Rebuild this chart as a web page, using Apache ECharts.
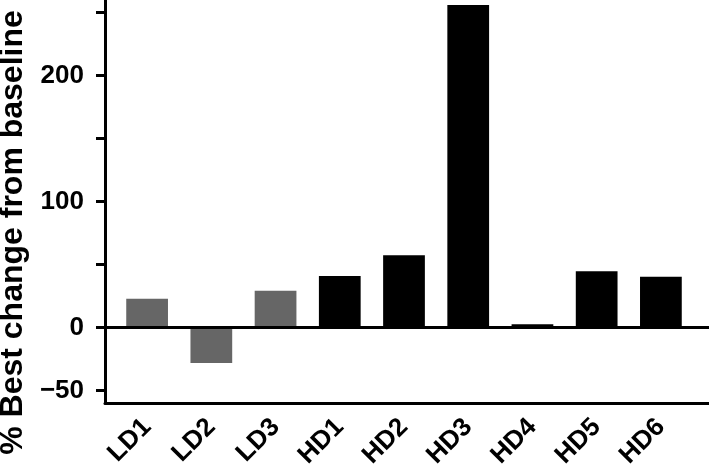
<!DOCTYPE html>
<html>
<head>
<meta charset="utf-8">
<script src="https://cdn.jsdelivr.net/npm/echarts@6/dist/echarts.min.js"></script>
<style>
  html, body { margin: 0; padding: 0; background: #fff; }
  #chart { width: 709px; height: 467px; }
</style>
</head>
<body>
<div id="chart"></div>
<script>
// patient groups and best % change from baseline
var categories = ['LD1', 'LD2', 'LD3', 'HD1', 'HD2', 'HD3', 'HD4', 'HD5', 'HD6'];
var bestChange = [22.8, -28.2, 29.2, 40.9, 57.4, 256, 2.6, 44.6, 40.3];
var groupOf = ['LD', 'LD', 'LD', 'HD', 'HD', 'HD', 'HD', 'HD', 'HD'];
var yTicks = [-50, 0, 50, 100, 150, 200, 250];
var yLabels = [-50, 0, 100, 200];

var groupColor = { LD: '#666666', HD: '#000000' };
var font = 'Liberation Sans, Arial, sans-serif';

var chart = echarts.init(document.getElementById('chart'));

var barData = bestChange.map(function (v, i) {
  return { value: v, itemStyle: { color: groupColor[groupOf[i]] } };
});

var option = {
  animation: false,
  backgroundColor: '#fff',
  grid: [
    // bars
    { left: 115, right: 16, top: 0, bottom: 64, outerBoundsMode: 'none', containLabel: false },
    // frame: axes + zero line spanning the full width
    { left: 105, right: 0, top: 0, bottom: 64, outerBoundsMode: 'none', containLabel: false }
  ],
  xAxis: [
    {
      type: 'category',
      gridIndex: 0,
      data: categories,
      position: 'bottom',
      axisLine: { show: false, onZero: false },
      axisTick: { show: false },
      axisLabel: {
        rotate: 45,
        margin: 20,
        color: '#000',
        fontFamily: font,
        fontWeight: 'bold',
        fontSize: 26
      }
    },
    {
      type: 'value',
      gridIndex: 1,
      min: 0,
      max: 1,
      axisLine: { show: true, onZero: false, lineStyle: { color: '#000', width: 3 } },
      axisTick: { show: false },
      axisLabel: { show: false },
      splitLine: { show: false }
    }
  ],
  yAxis: [
    {
      type: 'value',
      gridIndex: 0,
      min: -60,
      max: 260,
      show: false
    },
    {
      type: 'value',
      gridIndex: 1,
      min: -60,
      max: 260,
      name: '% Best change from baseline',
      nameLocation: 'middle',
      nameGap: 76,
      nameTextStyle: {
        color: '#000',
        fontFamily: font,
        fontWeight: 'bold',
        fontSize: 32,
        padding: [0, 0, 0, -62]
      },
      axisLine: { show: true, onZero: false, lineStyle: { color: '#000', width: 3 } },
      axisTick: {
        show: true,
        length: 9,
        customValues: yTicks,
        lineStyle: { color: '#000', width: 3 }
      },
      axisLabel: {
        customValues: yLabels,
        margin: 21,
        color: '#000',
        fontFamily: font,
        fontWeight: 'bold',
        fontSize: 26,
        formatter: function (v) { return String(v).replace('-', '\u2212'); }
      },
      splitLine: { show: false }
    }
  ],
  series: [
    {
      type: 'bar',
      xAxisIndex: 0,
      yAxisIndex: 0,
      data: barData,
      barWidth: '65%',
      z: 2
    },
    {
      // baseline at 0
      type: 'line',
      xAxisIndex: 1,
      yAxisIndex: 1,
      data: [[0, 0], [1, 0]],
      symbol: 'none',
      lineStyle: { color: '#000', width: 3 },
      z: 3
    }
  ]
};

chart.setOption(option);
</script>
</body>
</html>
